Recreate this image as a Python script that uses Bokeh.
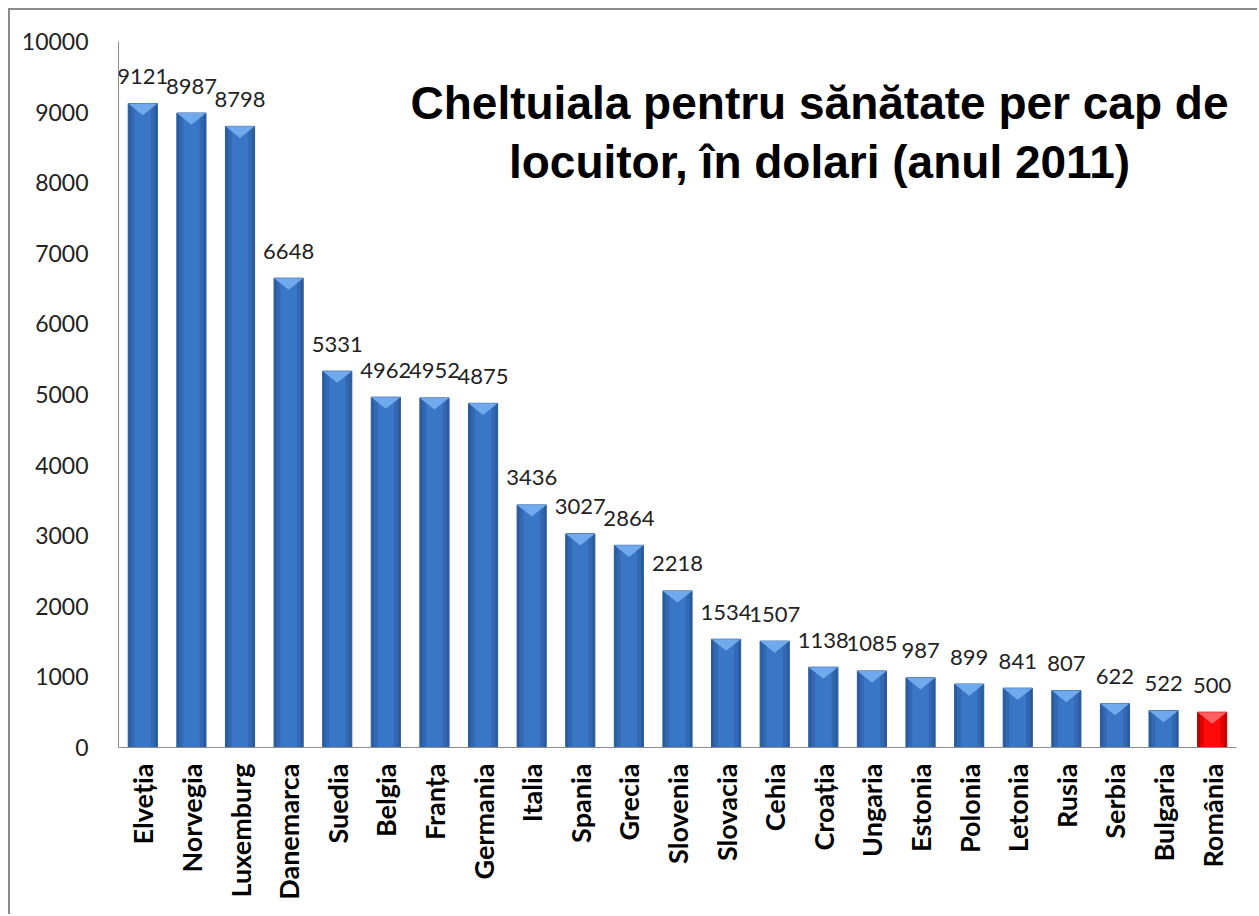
import math
from bokeh.plotting import figure
from bokeh.models import ColumnDataSource, Label, FixedTicker, Range1d
from bokeh.core.properties import value
from bokeh.embed import file_html
from bokeh.resources import INLINE

countries = ["Elveția", "Norvegia", "Luxemburg", "Danemarca", "Suedia", "Belgia", "Franța",
             "Germania", "Italia", "Spania", "Grecia", "Slovenia", "Slovacia", "Cehia", "Croația",
             "Ungaria", "Estonia", "Polonia", "Letonia", "Rusia", "Serbia", "Bulgaria", "România"]
spending = [9121, 8987, 8798, 6648, 5331, 4962, 4952, 4875, 3436, 3027, 2864, 2218, 1534, 1507,
            1138, 1085, 987, 899, 841, 807, 622, 522, 500]
y_ticks = [0, 1000, 2000, 3000, 4000, 5000, 6000, 7000, 8000, 9000, 10000]
title_lines = ["Cheltuiala pentru sănătate per cap de", "locuitor, în dolari (anul 2011)"]

highlight = "România"
is_hi = [c == highlight for c in countries]
edge_col = ["#b80000" if h else "#2a5b9e" for h in is_hi]
main_col = ["#e00000" if h else "#3267b2" for h in is_hi]
mid_col = ["#ff0a0a" if h else "#3a76c6" for h in is_hi]
cap_col = ["#ff6a6a" if h else "#78b0f0" for h in is_hi]

half = 0.3
cap_depth = 165  # chevron depth in data units
cap_xs = [[(c, -half), (c, half), (c, 0.0)] for c in countries]
cap_ys = [[v, v, v - cap_depth] for v in spending]

src = ColumnDataSource(dict(x=countries, top=spending, edge=edge_col, main=main_col, mid=mid_col,
                            lbl=[str(v) for v in spending]))
cap_src = ColumnDataSource(dict(xs=cap_xs, ys=cap_ys, cap=cap_col))

p = figure(x_range=countries, y_range=Range1d(0, 10000), width=1249, height=906,
           output_backend="svg", toolbar_location=None,
           min_border_left=108, min_border_right=23, min_border_top=31, min_border_bottom=169)
p.x_range.range_padding = 0
p.outline_line_color = None
p.xgrid.grid_line_color = None
p.ygrid.grid_line_color = None
p.background_fill_color = "white"
p.border_fill_color = "white"
p.styles = {"border-left": "2px solid #8a8a8a", "border-top": "2px solid #8a8a8a",
            "margin-left": "8px", "margin-top": "8px"}

p.vbar(x="x", top="top", bottom=0, width=2 * half, source=src, fill_color="edge",
       line_color="edge", line_width=1)
p.vbar(x="x", top="top", bottom=0, width=0.5, source=src, fill_color="main", line_color=None)
p.vbar(x="x", top="top", bottom=0, width=0.34, source=src, fill_color="mid", line_color=None)
p.patches(xs="xs", ys="ys", source=cap_src, fill_color="cap", line_color=None, fill_alpha=0.9)

p.text(x="x", y="top", text="lbl", source=src, text_align="center",
       text_baseline="alphabetic", y_offset=-27, text_font=value("Lato"),
       text_font_size="22px", text_color="#222222")

yax = p.yaxis[0]
yax.ticker = FixedTicker(ticks=y_ticks)
yax.major_tick_line_color = None
yax.minor_tick_line_color = None
yax.axis_line_color = "#8c8c8c"
yax.major_label_text_font = "Lato"
yax.major_label_text_font_size = "23px"
yax.major_label_text_color = "#222222"
yax.major_label_standoff = 24

xax = p.xaxis[0]
xax.major_tick_line_color = None
xax.minor_tick_line_color = None
xax.axis_line_color = "#8c8c8c"
xax.major_label_orientation = math.pi / 2
xax.major_label_text_font = "Lato"
xax.major_label_text_font_style = "bold"
xax.major_label_text_font_size = "27px"
xax.major_label_text_color = "#000000"
xax.major_label_standoff = 10

for t, yy in zip(title_lines, [645, 586]):
    p.add_layout(Label(x=701, y=yy, x_units="screen", y_units="screen", text=t,
                       text_align="center", text_baseline="alphabetic",
                       text_font="Liberation Sans", text_font_style="bold",
                       text_font_size="46px", text_color="#000000"))

open("out.html", "w").write(file_html(p, INLINE))
